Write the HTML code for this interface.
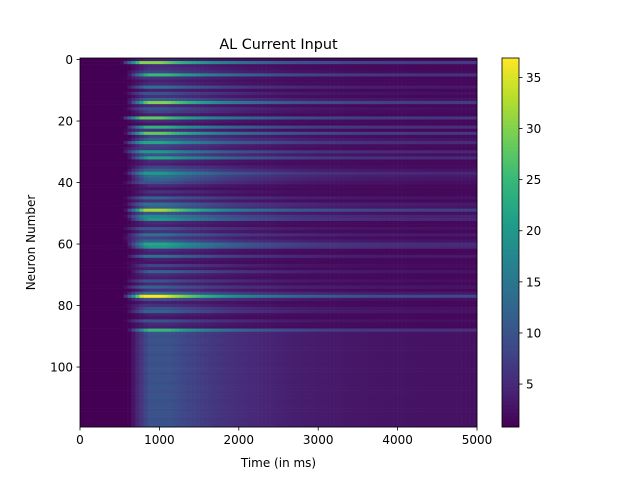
<!DOCTYPE html>
<html><head><meta charset="utf-8"><style>
body{margin:0;background:#fff;}
text{font-family:"DejaVu Sans","Liberation Sans",sans-serif;font-size:12px;fill:#000;}
</style></head><body>
<svg id="c" width="640" height="480" xmlns="http://www.w3.org/2000/svg">
<g id="heat"></g>
<g id="cbar"></g>
<g id="axes"></g>
<text x="278.5" y="49" text-anchor="middle" style="font-size:14.4px">AL Current Input</text>
<text x="278.5" y="467" text-anchor="middle">Time (in ms)</text>
<text transform="translate(35,242.5) rotate(-90)" text-anchor="middle">Neuron Number</text>
</svg>
<script>
const peaks=[4,30,5,6,8,25,6,4,5,14,4,10,6,12,30,5,10,8,4,28,5,3,24,6,28,8,12,22,8,7,20,10,22,5,4,8,12,20,14,12,10,5,3,6,4,12,6,14,12,32,10,18,20,5,4,10,6,14,8,12,22,20,5,4,14,4,3,8,4,12,5,4,10,5,12,6,14,37,10,4,6,10,12,4,3,10,5,4,25,
10,9.5,10,10,9.5,10,10,9.5,10,10,9.5,10,10,9.5,10,10,9.5,10,10,9.5,10,10,9.5,10,10,9.5,10,10,9.5,10,10];
const onsets=[560,520,600,620,580,600,560,620,600,580,620,560,600,580,600,580,560,620,600,520,580,620,580,540,560,620,600,540,580,520,540,580,600,620,580,600,580,560,600,600,540,620,560,620,600,560,580,560,600,560,580,560,600,600,580,540,600,560,520,560,580,600,620,600,580,620,540,600,560,620,600,580,560,600,540,620,560,540,580,600,560,600,580,620,600,560,620,600,600,
620,620,620,620,620,620,620,620,620,620,620,620,620,620,620,620,620,620,620,620,620,620,620,620,620,620,620,620,620,620,620,620];
const sustains=peaks.map((p,i)=>i>=89?2.3:Math.max(1.5,p*0.22));
const xTicks=[0,1000,2000,3000,4000,5000];
const yTicks=[0,20,40,60,80,100];
const cTicks=[5,10,15,20,25,30,35];
const VMIN=0.8,VMAX=36.9,L=80,R=477,T=58,B=427,NR=120;
const xs=t=>L+(t/5000)*(R-L);
const ys=v=>T+(v+0.5)*(B-T)/NR;
const vir=[[68,1,84],[72,40,120],[62,74,137],[49,104,142],[38,130,142],[31,158,137],[53,183,121],[109,205,89],[180,222,44],[253,231,37]];
function col(v){let f=Math.min(1,Math.max(0,(v-VMIN)/(VMAX-VMIN)))*(vir.length-1);let i=Math.min(vir.length-2,Math.floor(f)),u=f-i;const a=vir[i],b=vir[i+1];return `rgb(${Math.round(a[0]+(b[0]-a[0])*u)},${Math.round(a[1]+(b[1]-a[1])*u)},${Math.round(a[2]+(b[2]-a[2])*u)})`;}
function val(r,t){const on=onsets[r];if(t<on)return 0.8;const p=peaks[r],s=sustains[r];const ramp=Math.min(1,(t-on)/250);const pk=on+500;const dec=t<pk?1:Math.exp(-(t-pk)/(r>=89?1000:900));return 0.8+ramp*(s-0.8+(p-s)*dec);}
const NS="http://www.w3.org/2000/svg",heat=document.getElementById('heat');
const dt=50,rh=(B-T)/NR;
for(let r=0;r<NR;r++){for(let t=0;t<5000;t+=dt){const e=document.createElementNS(NS,'rect');
e.setAttribute('x',xs(t));e.setAttribute('y',T+r*rh);e.setAttribute('width',xs(dt)-L+0.3);e.setAttribute('height',rh+0.3);e.setAttribute('fill',col(val(r,t+dt/2)));


heat.appendChild(e);}}
const ax=document.getElementById('axes');
function add(p,tag,at,txt){const e=document.createElementNS(NS,tag);for(const k in at)e.setAttribute(k,at[k]);if(txt!==undefined)e.textContent=txt;p.appendChild(e);return e;}
const fr=add(ax,'rect',{x:L,y:T,width:R-L,height:B-T,fill:'none',stroke:'#000','stroke-width':0.8});


xTicks.forEach(t=>{add(ax,'line',{x1:xs(t),x2:xs(t),y1:B,y2:B+3.5,stroke:'#000','stroke-width':0.8});const e=add(ax,'text',{x:xs(t),y:B+17,'text-anchor':'middle'},t);

});
yTicks.forEach(v=>{add(ax,'line',{x1:L-3.5,x2:L,y1:ys(v),y2:ys(v),stroke:'#000','stroke-width':0.8});const e=add(ax,'text',{x:L-7,y:ys(v)+4.5,'text-anchor':'end'},v);

});
const cb=document.getElementById('cbar'),CL=502,CR=519;
const cy=v=>B-(v-VMIN)/(VMAX-VMIN)*(B-T);
for(let i=0;i<100;i++){const v0=VMIN+(VMAX-VMIN)*i/100,v1=VMIN+(VMAX-VMIN)*(i+1)/100;add(cb,'rect',{x:CL,y:cy(v1),width:CR-CL,height:cy(v0)-cy(v1)+0.4,fill:col((v0+v1)/2)});}
add(cb,'rect',{x:CL,y:T,width:CR-CL,height:B-T,fill:'none',stroke:'#000','stroke-width':0.8});
cTicks.forEach(v=>{add(cb,'line',{x1:CR,x2:CR+3.5,y1:cy(v),y2:cy(v),stroke:'#000','stroke-width':0.8});const e=add(cb,'text',{x:CR+7,y:cy(v)+4.5},v);

});
</script>
</body></html>
